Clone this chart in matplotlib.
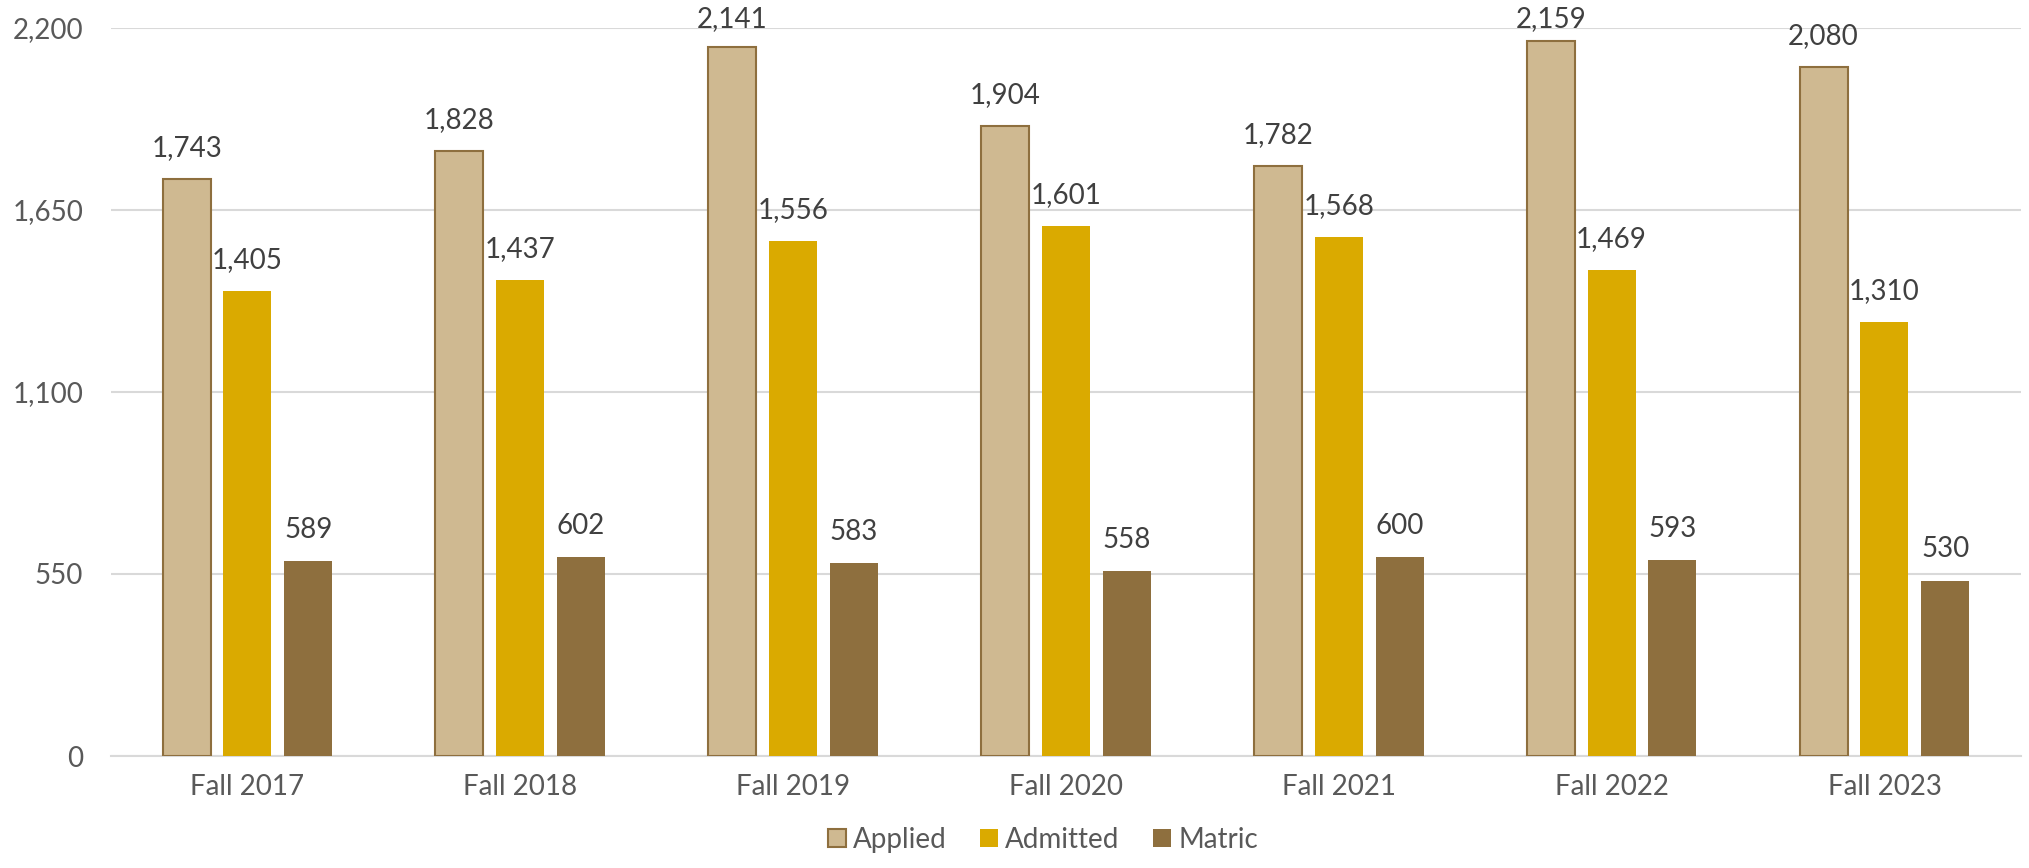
import numpy as np
import matplotlib.pyplot as plt
from matplotlib.ticker import FuncFormatter

plt.rcParams['font.family'] = ['Lato', 'DejaVu Sans']

# Dane
years = ['Fall 2017', 'Fall 2018', 'Fall 2019', 'Fall 2020', 'Fall 2021', 'Fall 2022', 'Fall 2023']
applied = [1743, 1828, 2141, 1904, 1782, 2159, 2080]
admitted = [1405, 1437, 1556, 1601, 1568, 1469, 1310]
matric = [589, 602, 583, 558, 600, 593, 530]

yticks = [0, 550, 1100, 1650, 2200]

fig = plt.figure(figsize=(20.29, 8.68), dpi=100)
ax = fig.add_axes([0.0547, 0.129, 0.9413, 0.839])

x = np.arange(len(years))
w = 0.176
step = 0.223

series = [
    ('Applied', applied, '#CFB991', '#8E6F3E', 1.5),
    ('Admitted', admitted, '#DAAA00', '#DAAA00', 0),
    ('Matric', matric, '#8E6F3E', '#8E6F3E', 0),
]

fs = 20

for i, (name, vals, fc, ec, lw) in enumerate(series):
    pos = x + (i - 1) * step
    bars = ax.bar(pos, vals, width=w, color=fc, edgecolor=ec, linewidth=lw, label=name, zorder=3)
    for b, v in zip(bars, vals):
        # etykieta nad słupkiem, przycięta do obszaru wykresu (jak w Excelu)
        ax.text(b.get_x() + b.get_width() / 2, min(v + 55, 2188), f'{v:,}', ha='center', va='bottom',
                fontsize=fs, color='#404040')

ax.set_xlim(-0.5, len(years) - 0.5)
ax.set_ylim(0, 2200)
ax.set_yticks(yticks)
ax.yaxis.set_major_formatter(FuncFormatter(lambda v, p: f'{int(v):,}'))
ax.set_xticks(x)
ax.set_xticklabels(years)

ax.grid(axis='y', color='#D9D9D9', linewidth=1.5, zorder=0)
for s in ['top', 'right', 'left']:
    ax.spines[s].set_visible(False)
ax.spines['bottom'].set_color('#D9D9D9')
ax.spines['bottom'].set_linewidth(1.5)
ax.tick_params(axis='both', length=0, labelsize=fs, labelcolor='#595959')
ax.tick_params(axis='x', pad=13)
ax.tick_params(axis='y', pad=20)

ax.legend(loc='center', bbox_to_anchor=(0.488, -0.115), ncol=3, frameon=False,
          fontsize=fs, labelcolor='#595959', handlelength=0.65, handleheight=0.65,
          handletextpad=0.25, columnspacing=1.2)

plt.savefig('out.png', dpi=100)
